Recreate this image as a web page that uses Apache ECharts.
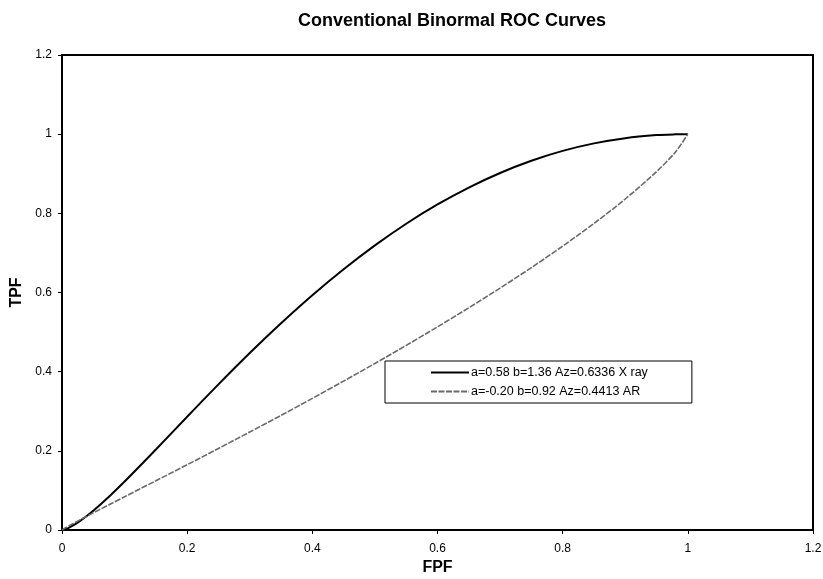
<!DOCTYPE html>
<html>
<head>
<meta charset="utf-8">
<script src="https://cdn.jsdelivr.net/npm/echarts@6/dist/echarts.min.js"></script>
<style>html,body{margin:0;padding:0;background:#fff}#c{width:823px;height:579px}</style>
</head>
<body>
<div id="c"></div>
<script>
// FPF sample points (x values)
var fpf = [0, 0.005, 0.01, 0.02, 0.03, 0.05, 0.075, 0.1, 0.15, 0.2, 0.25, 0.3, 0.35, 0.4, 0.45, 0.5, 0.55, 0.6, 0.65, 0.7, 0.75, 0.8, 0.85, 0.9, 0.95, 0.98, 1];
// TPF for X ray curve (a=0.58, b=1.36)
var tpfXray = [0, 0.0017, 0.0049, 0.0134, 0.024, 0.0488, 0.0841, 0.1224, 0.2034, 0.2862, 0.3679, 0.447, 0.5223, 0.5931, 0.6587, 0.719, 0.7737, 0.8224, 0.8652, 0.902, 0.9328, 0.9577, 0.9767, 0.9899, 0.9976, 0.9996, 1];
// TPF for AR curve (a=-0.20, b=0.92)
var tpfAR = [0, 0.0051, 0.0096, 0.0183, 0.0267, 0.0433, 0.0636, 0.0839, 0.1244, 0.1649, 0.206, 0.2475, 0.2896, 0.3325, 0.3762, 0.4207, 0.4664, 0.5132, 0.5614, 0.6112, 0.6629, 0.7171, 0.7744, 0.8362, 0.9054, 0.9545, 1];
var seriesNames = ['a=0.58 b=1.36 Az=0.6336 X ray', 'a=-0.20 b=0.92 Az=0.4413 AR'];
var titleText = 'Conventional Binormal ROC Curves';
var xName = 'FPF', yName = 'TPF';

function pairs(xs, ys){ return xs.map(function(x,i){ return [x, ys[i]]; }); }

var font = 'Liberation Sans, Arial, sans-serif';
var chart = echarts.init(document.getElementById('c'), null, {renderer:'canvas'});
chart.setOption({
  animation: false,
  backgroundColor: '#fff',
  title: {
    text: titleText, left: 447, top: 7, textAlign: 'center',
    textStyle: {fontFamily: font, fontSize: 18, fontWeight: 'bold', color: '#000'}
  },
  legend: {
    orient: 'vertical', left: 385, top: 361,
    padding: [5, 44, 5, 45],
    borderColor: '#000', borderWidth: 1,
    itemWidth: 38, itemHeight: 12, itemGap: 6,
    itemStyle: {opacity: 0},
    textStyle: {fontFamily: font, fontSize: 12.5, color: '#000', padding: [0,0,0,-3]},
    data: seriesNames
  },
  grid: {left: 62, right: 10, top: 55, bottom: 49, show: true, borderColor: '#000', borderWidth: 2,
         containLabel: false, outerBoundsMode: 'none'},
  xAxis: {
    type: 'value', min: 0, max: 1.2, interval: 0.2,
    name: xName, nameLocation: 'middle', nameGap: 28,
    nameTextStyle: {fontFamily: font, fontSize: 16, fontWeight: 'bold', color: '#000'},
    axisLine: {show: true, lineStyle: {color: '#000', width: 2}},
    axisTick: {show: true, length: 4, lineStyle: {color: '#000'}},
    axisLabel: {fontFamily: font, fontSize: 12, color: '#000', margin: 13, formatter: function(v){ return String(Math.round(v*10)/10); }},
    splitLine: {show: false}
  },
  yAxis: {
    type: 'value', min: 0, max: 1.2, interval: 0.2,
    name: yName, nameLocation: 'middle', nameGap: 37, nameRotate: 90,
    nameTextStyle: {fontFamily: font, fontSize: 16, fontWeight: 'bold', color: '#000'},
    axisLine: {show: true, lineStyle: {color: '#000', width: 2}},
    axisTick: {show: true, length: 4, lineStyle: {color: '#000'}},
    axisLabel: {fontFamily: font, fontSize: 12, color: '#000', margin: 10, formatter: function(v){ return String(Math.round(v*10)/10); }},
    splitLine: {show: false}
  },
  series: [
    {name: seriesNames[0], type: 'line', smooth: 0.3, symbol: 'none', data: pairs(fpf, tpfXray),
     lineStyle: {color: '#000', width: 2}, itemStyle: {color: '#000'}},
    {name: seriesNames[1], type: 'line', smooth: 0.3, symbol: 'none', data: pairs(fpf, tpfAR),
     lineStyle: {color: '#6a6a6a', width: 1.6, type: [6, 1.5]}, itemStyle: {color: '#6a6a6a'}}
  ]
});
</script>
</body>
</html>
